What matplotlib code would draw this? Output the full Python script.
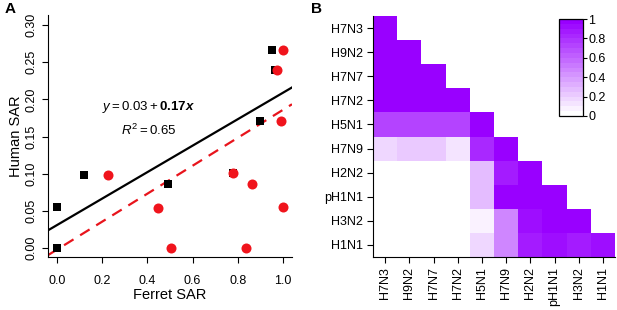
import numpy as np
import matplotlib
matplotlib.use("Agg")
import matplotlib.pyplot as plt
from matplotlib.colors import LinearSegmentedColormap

plt.rcParams['font.family'] = ['Liberation Sans', 'DejaVu Sans']
plt.rcParams['mathtext.fontset'] = 'custom'
plt.rcParams['mathtext.rm'] = 'Liberation Sans'
plt.rcParams['mathtext.it'] = 'Liberation Sans:italic'
plt.rcParams['mathtext.bf'] = 'Liberation Sans:bold'
try:
    plt.rcParams['mathtext.bfit'] = 'Liberation Sans:italic:bold'
except Exception:
    pass

# ---------------- Panel A data ----------------
black_x = [0.0, 0.0, 0.12, 0.49, 0.78, 0.90, 0.95, 0.965]
black_y = [0.055, 0.0, 0.099, 0.086, 0.101, 0.171, 0.267, 0.239]
red_x = [0.225, 0.446, 0.503, 0.78, 0.836, 0.865, 0.973, 0.991, 1.0, 1.0]
red_y = [0.099, 0.054, 0.0, 0.101, 0.0, 0.086, 0.239, 0.171, 0.267, 0.0556]
black_fit = (0.031, 0.178)   # intercept, slope
red_fit = (-0.002, 0.188)
x_ticks = [0.0, 0.2, 0.4, 0.6, 0.8, 1.0]
y_ticks = [0.00, 0.05, 0.10, 0.15, 0.20, 0.25, 0.30]

# ---------------- Panel B data ----------------
strains = ['H7N3', 'H9N2', 'H7N7', 'H7N2', 'H5N1', 'H7N9', 'H2N2', 'pH1N1', 'H3N2', 'H1N1']
rows = [
    [1.0],
    [1.0, 1.0],
    [1.0, 1.0, 1.0],
    [1.0, 1.0, 1.0, 1.0],
    [0.72, 0.72, 0.72, 0.72, 1.0],
    [0.17, 0.22, 0.22, 0.13, 0.8, 1.0],
    [0.0, 0.0, 0.0, 0.0, 0.25, 0.85, 0.95],
    [0.0, 0.0, 0.0, 0.0, 0.28, 1.0, 1.0, 1.0],
    [0.0, 0.0, 0.0, 0.0, 0.08, 0.45, 0.9, 0.95, 0.97],
    [0.0, 0.0, 0.0, 0.0, 0.15, 0.45, 0.87, 0.93, 0.88, 0.9],
]
cbar_ticks = [0, 0.2, 0.4, 0.6, 0.8, 1]
cbar_labels = ['0', '0.2', '0.4', '0.6', '0.8', '1']

fig = plt.figure(figsize=(6.17, 3.10), dpi=100)

# ---------------- Panel A ----------------
axA = fig.add_axes([48/617, 53/310, 244/617, 242/310])
xlim = (-0.04, 1.04)
axA.set_xlim(*xlim)
axA.set_ylim(-0.012, 0.3136)
xx = np.array(xlim)
axA.plot(xx, black_fit[0] + black_fit[1]*xx, color='black', lw=1.6, zorder=2)
axA.plot(xx, red_fit[0] + red_fit[1]*xx, color='#e8141c', lw=1.6, ls=(0, (5, 3.5)), zorder=2)
axA.scatter(black_x, black_y, marker='s', s=38, color='black', zorder=3, linewidths=0)
axA.scatter(red_x, red_y, marker='o', s=52, color='#f0141c', zorder=4, linewidths=0)
axA.text(0.405, 0.19, r'$y = 0.03 + \mathbf{0.17}\mathbfit{x}$', ha='center', va='center', fontsize=9.5)
axA.text(0.405, 0.159, r'$R^2 = 0.65$', ha='center', va='center', fontsize=9.5)
axA.spines['top'].set_visible(False)
axA.spines['right'].set_visible(False)
axA.set_xticks(x_ticks)
axA.set_xticklabels(['%.1f' % v for v in x_ticks])
axA.set_yticks(y_ticks)
axA.set_yticklabels(['%.2f' % v for v in y_ticks], rotation=90, va='center')
axA.tick_params(labelsize=9, length=4, width=0.8)
axA.tick_params(axis='x', pad=9)
axA.tick_params(axis='y', pad=3.5)
axA.set_xlabel('Ferret SAR', fontsize=10.5)
axA.set_ylabel('Human SAR', fontsize=10.5)
axA.xaxis.set_label_coords(0.5, -0.127)
axA.yaxis.set_label_coords(-0.101, 0.5)
fig.text(5/617, 1 - 9/310, 'A', fontsize=11, fontweight='bold', va='center', ha='left')

# ---------------- Panel B ----------------
n = len(strains)
mat = np.full((n, n), np.nan)
for i, r in enumerate(rows):
    mat[i, :len(r)] = r
mat = np.ma.masked_invalid(mat)
cmap = LinearSegmentedColormap.from_list('wp', ['#ffffff', '#9900ff'], N=20)
axB = fig.add_axes([373/617, 53/310, 242/617, 241/310])
mesh = axB.pcolormesh(np.arange(n+1), np.arange(n+1), mat, cmap=cmap, vmin=0, vmax=1)
axB.set_xlim(0, n)
axB.set_ylim(n, 0)
axB.set_xticks(np.arange(n) + 0.5)
axB.set_xticklabels(strains, rotation=90, fontsize=9)
axB.set_yticks(np.arange(n) + 0.5)
axB.set_yticklabels(strains, fontsize=9)
axB.tick_params(length=4, width=0.8, pad=3)
axB.spines['top'].set_visible(False)
axB.spines['right'].set_visible(False)
fig.text(311/617, 1 - 9/310, 'B', fontsize=11, fontweight='bold', va='center', ha='left')

cax = fig.add_axes([559/617, 194/310, 24/617, 97/310])
cb = fig.colorbar(mesh, cax=cax, ticks=cbar_ticks)
cb.ax.set_yticklabels(cbar_labels)
cb.ax.tick_params(labelsize=9, length=3, width=0.8, pad=1)
cb.outline.set_linewidth(0.9)

fig.savefig('out.png', dpi=100)
